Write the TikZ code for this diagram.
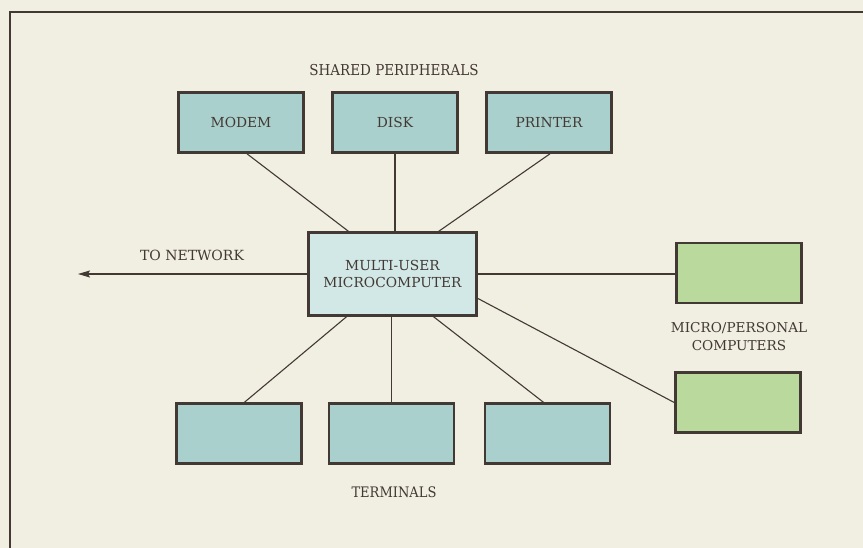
\documentclass[tikz,border=0pt]{standalone}
\usepackage{fontspec}
\usetikzlibrary{arrows.meta}
\setmainfont{DejaVu Serif}
\newfontfamily\condfont{DejaVu Serif Condensed}
\definecolor{paper}{HTML}{F1EEE2}
\definecolor{ink}{HTML}{433934}
\definecolor{boxblue}{HTML}{A9D0CC}
\definecolor{boxlight}{HTML}{D2E8E6}
\definecolor{boxgreen}{HTML}{BAD99C}
\begin{document}
\begin{tikzpicture}[x=1pt,y=-1pt,
  unitbox/.style={draw=ink,line width=2.6pt,fill=boxblue,minimum width=125pt,minimum height=60pt,inner sep=0pt,text=ink,font=\fontsize{13.8}{16}\selectfont,text height=10pt,text depth=0pt},
  pcbox/.style={unitbox,fill=boxgreen},
  hostbox/.style={draw=ink,line width=2.6pt,fill=boxlight,minimum width=168pt,minimum height=83pt,inner sep=0pt,text=ink,align=center,font=\fontsize{13.8}{17.5}\selectfont},
  wire/.style={draw=ink,line width=1.1pt},
  lbl/.style={text=ink,font=\condfont\fontsize{14.5}{17}\selectfont,align=center}]
\useasboundingbox (0,0) rectangle (863,548);
\fill[paper] (0,0) rectangle (863,548);
\draw[ink,line width=2.6pt] (863,12) -- (10,12) -- (10,548);

\node[lbl,font=\condfont\fontsize{15}{17}\selectfont] (shared) at (394,70) {SHARED PERIPHERALS};
\node[unitbox] (modem) at (241,122.5) {MODEM};
\node[unitbox] (disk) at (395,122.5) {DISK};
\node[unitbox] (printer) at (549,122.5) {PRINTER};

\node[hostbox] (host) at (392.5,274) {MULTI-USER\\MICROCOMPUTER};

\node[pcbox] (pc1) at (739,273) {};
\node[pcbox] (pc2) at (738,402.5) {};
\node[lbl,font=\fontsize{13.6}{18}\selectfont] (pclbl) at (739,336.5) {MICRO/PERSONAL\\COMPUTERS};

\node[unitbox] (t1) at (239,433.5) {};
\node[unitbox] (t2) at (391.5,433.5) {};
\node[unitbox] (t3) at (547.5,433.5) {};
\node[lbl] (termlbl) at (394,492) {TERMINALS};

\node[lbl,font=\fontsize{14}{16}\selectfont] (netlbl) at (192,255) {TO NETWORK};
\coordinate (net) at (78,274);

\draw[wire] (modem.south) ++(6,0) coordinate (m1) -- (350,232.5);
\draw[wire] (disk.south) -- (disk.south |- host.north);
\draw[wire] (printer.south) ++(1,0) -- (437,232.5);
\draw[wire,-{Stealth[length=12pt,width=7pt,inset=2pt]}] (host.west) -- (net);
\draw[wire] (host.east) -- (host.east -| pc1.west);
\draw[wire] (477,298) -- (pc2.west);
\draw[wire] (348,315.5) -- (243,403.5);
\draw[wire] (t2.north) -- (t2.north |- host.south);
\draw[wire] (432,315.5) -- (545,403.5);
\end{tikzpicture}
\end{document}
